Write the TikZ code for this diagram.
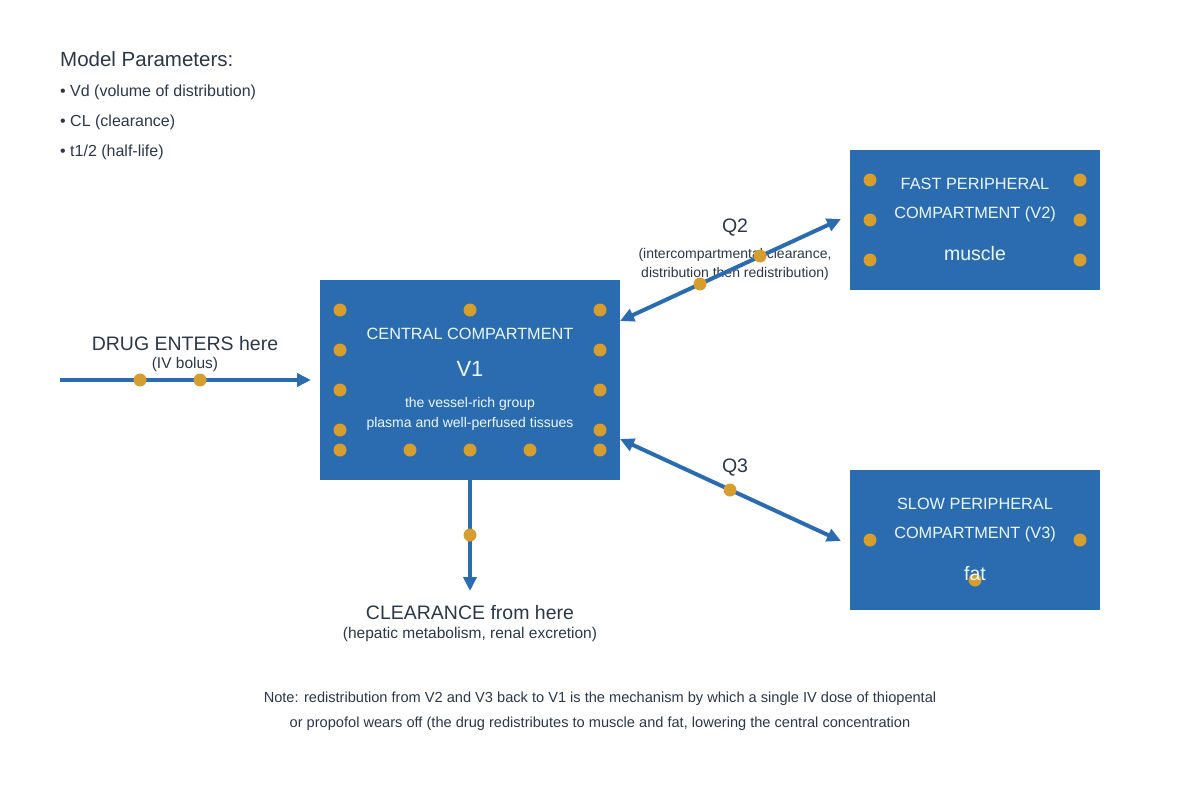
\documentclass[tikz,border=0pt]{standalone}
\usepackage{fontspec}
\setmainfont{Liberation Sans}
\usetikzlibrary{arrows.meta}
\definecolor{boxblue}{HTML}{2B6CB0}
\definecolor{dotor}{HTML}{D69E2E}
\definecolor{ink}{HTML}{2D3748}
\definecolor{boxtxt}{HTML}{EBF8FF}
\tikzset{
  comp/.style={fill=boxblue, draw=none},
  dot/.style={circle, fill=dotor, minimum size=13pt, inner sep=0pt},
  flow/.style={draw=boxblue, line width=4pt, -{Triangle[length=14pt,width=13pt]}},
  bflow/.style={draw=boxblue, line width=4pt, {Triangle[length=14pt,width=13pt]}-{Triangle[length=14pt,width=13pt]}},
  wt/.style={text=boxtxt, inner sep=0pt, anchor=center},
  dk/.style={text=ink, inner sep=0pt, anchor=center},
}
\begin{document}
\begin{tikzpicture}[x=1pt,y=-1pt]
\useasboundingbox (0,0) rectangle (1200,800);
\fill[white] (0,0) rectangle (1200,800);

% parameters
\node[dk, anchor=west, font=\fontsize{20.5}{24}\selectfont] (mp) at (60,59) {Model Parameters:};
\node[dk, anchor=west, font=\fontsize{16}{19}\selectfont] (p1) at (60,92) {\textbullet{} Vd (volume of distribution)};
\node[dk, anchor=west, font=\fontsize{16}{19}\selectfont] (p2) at (60,122) {\textbullet{} CL (clearance)};
\node[dk, anchor=west, font=\fontsize{16}{19}\selectfont] (p3) at (60,152) {\textbullet{} t1/2 (half-life)};

% boxes
\node[comp, minimum width=300pt, minimum height=200pt] (v1) at (470,380) {};
\node[comp, minimum width=250pt, minimum height=140pt] (v2) at (975,220) {};
\node[comp, minimum width=250pt, minimum height=140pt] (v3) at (975,540) {};

% central text
\node[wt, font=\fontsize{16.3}{19}\selectfont] (t1) at (470,334) {CENTRAL COMPARTMENT};
\node[wt, font=\fontsize{22}{25}\selectfont] (t2) at (470,369) {V1};
\node[wt, font=\fontsize{14}{17}\selectfont] (t3) at (470,404) {the vessel-rich group};
\node[wt, font=\fontsize{14}{17}\selectfont] (t4) at (470,424) {plasma and well-perfused tissues};

% V2 text
\node[wt, font=\fontsize{16.3}{19}\selectfont] (f1) at (975,184) {FAST PERIPHERAL};
\node[wt, font=\fontsize{16.3}{19}\selectfont] (f2) at (975,214) {COMPARTMENT (V2)};
\node[wt, font=\fontsize{19.5}{22}\selectfont] (f3) at (975,254) {muscle};

% V3 text
\node[wt, font=\fontsize{16.3}{19}\selectfont] (s1) at (975,504) {SLOW PERIPHERAL};
\node[wt, font=\fontsize{16.3}{19}\selectfont] (s2) at (975,534) {COMPARTMENT (V3)};

% central dots
\foreach \p in {(340,310),(470,310),(600,310),(340,350),(340,390),(340,430),(340,450),(600,350),(600,390),(600,430),(600,450),(410,450),(470,450),(530,450)}
  \node[dot] at \p {};
% V2 dots
\foreach \p in {(870,180),(870,220),(870,260),(1080,180),(1080,220),(1080,260)}
  \node[dot] at \p {};
% V3 dots
\foreach \p in {(870,540),(1080,540),(975,580)}
  \node[dot] at \p {};
\node[wt, font=\fontsize{19.5}{22}\selectfont] (s3) at (975,574) {fat};

% input
\coordinate (in0) at (60,380);
\coordinate (in1) at (311,380);
\draw[flow] (in0) -- (in1);
\node[dot] at (140,380) {};
\node[dot] at (200,380) {};
\node[dk, font=\fontsize{19.5}{22}\selectfont] (de) at (185,344) {DRUG ENTERS here};
\node[dk, font=\fontsize{15.5}{18}\selectfont] (ivb) at (185,364) {(IV bolus)};

% clearance
\coordinate (cl1) at (470,591);
\draw[flow] (v1.south) -- (cl1);
\node[dot] at (470,535) {};
\node[dk, font=\fontsize{19.5}{22}\selectfont] (clt) at (470,613) {CLEARANCE from here};
\node[dk, font=\fontsize{15.5}{18}\selectfont] (cls) at (470,634) {(hepatic metabolism, renal excretion)};

% Q2
\node[dk, font=\fontsize{19.5}{22}\selectfont] (q2) at (735,228) {Q2};
\node[dk, font=\fontsize{14}{17}\selectfont] (q2a) at (735,255) {(intercompartmental clearance,};
\node[dk, font=\fontsize{14}{17}\selectfont] (q2b) at (735,274) {distribution then redistribution)};
\coordinate (a2) at (620,321);
\coordinate (b2) at (841,219);
\draw[bflow] (a2) -- (b2);
\node[dot] at (700,284) {};
\node[dot] at (760,256) {};

% Q3
\node[dk, font=\fontsize{19.5}{22}\selectfont] (q3) at (735,468) {Q3};
\coordinate (a3) at (620,439);
\coordinate (b3) at (841,541);
\draw[bflow] (a3) -- (b3);
\node[dot] at (730,490) {};

% note
\node[dk, font=\fontsize{14.6}{17}\selectfont] (n1) at (600,699) {Note: redistribution from V2 and V3 back to V1 is the mechanism by which a single IV dose of thiopental};
\node[dk, font=\fontsize{14.6}{17}\selectfont] (n2) at (600,724) {or propofol wears off (the drug redistributes to muscle and fat, lowering the central concentration};
\end{tikzpicture}
\end{document}
